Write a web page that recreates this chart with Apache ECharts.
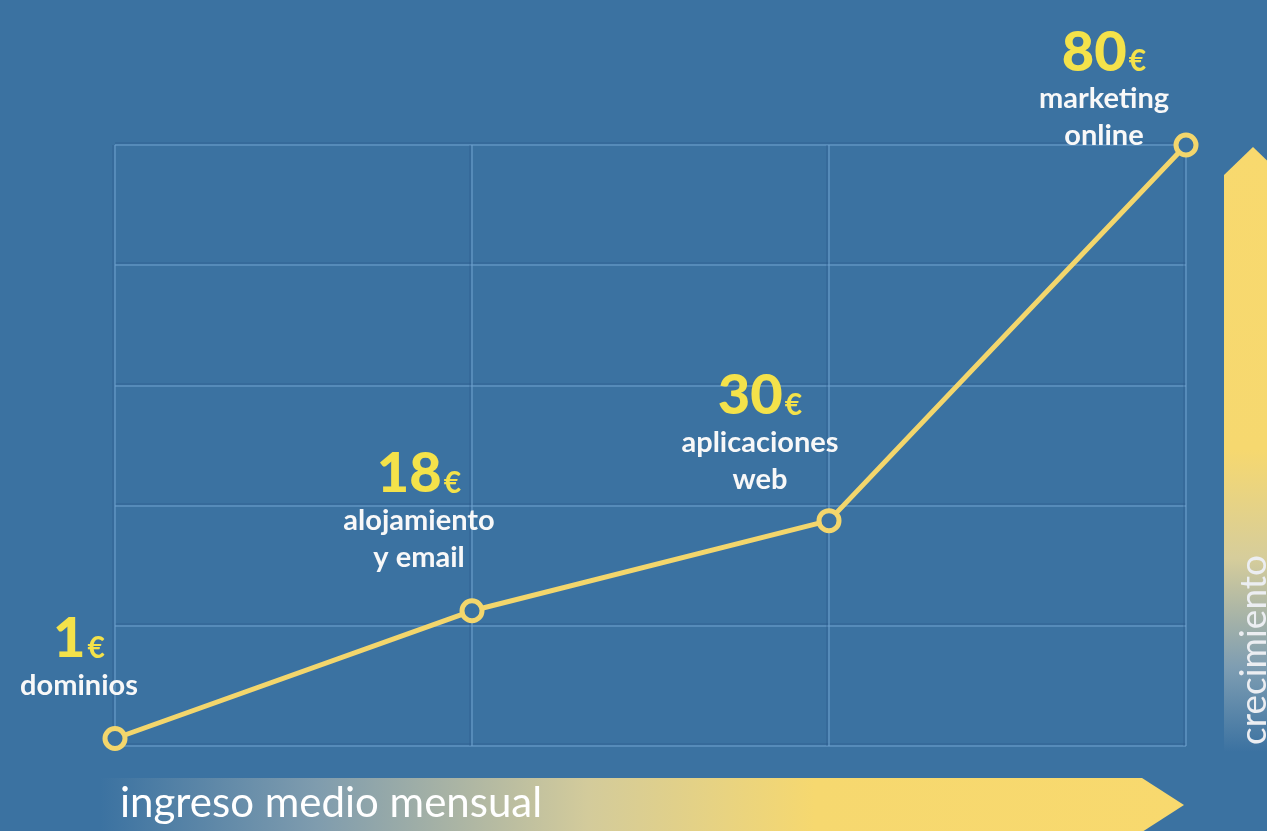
<!DOCTYPE html>
<html>
<head>
<meta charset="utf-8">
<script src="https://cdn.jsdelivr.net/npm/echarts@6/dist/echarts.min.js"></script>
<style>
  html, body { margin: 0; padding: 0; background: #3b72a1; }
  #chart { width: 1267px; height: 831px; }
</style>
</head>
<body>
<div id="chart"></div>
<script>
// Services and their average monthly income per customer (€)
const categories = ['dominios', 'alojamiento\ny email', 'aplicaciones\nweb', 'marketing\nonline'];
const ingreso = [1, 18, 30, 80];
const axisTitleX = 'ingreso medio mensual';
const axisTitleY = 'crecimiento';

// label block placement relative to each point [dx, dy]
const labelShift = [[-36, -22], [-53, -22], [-69, -10], [-82, 22]];

const BG = '#3b72a1';
const YELLOW = '#f3d66c';
const FONT = 'Lato, "Open Sans", sans-serif';

const chart = echarts.init(document.getElementById('chart'), null, { renderer: 'canvas' });

const gridLine = (horizontal) => ({
  show: true,
  lineStyle: {
    color: 'rgba(110,160,205,0.55)',
    width: 2,
    shadowColor: 'rgba(40,85,135,0.45)',
    shadowBlur: 0,
    shadowOffsetX: horizontal ? 0 : -2,
    shadowOffsetY: horizontal ? -2 : 0
  }
});

chart.setOption({
  backgroundColor: BG,
  animation: false,
  grid: { left: 115, right: 81, top: 145, bottom: 85 },
  xAxis: {
    type: 'category',
    data: categories,
    boundaryGap: false,
    axisLine: { show: false },
    axisTick: { show: false },
    axisLabel: { show: false },
    splitLine: gridLine(false)
  },
  yAxis: {
    type: 'value',
    min: 0,
    max: 80,
    interval: 16,
    axisLine: { show: false },
    axisTick: { show: false },
    axisLabel: { show: false },
    splitLine: gridLine(true)
  },
  series: [{
    type: 'line',
    data: ingreso.map((v, i) => ({
      value: v,
      label: { offset: labelShift[i] }
    })),
    symbol: 'circle',
    symbolSize: 20,
    lineStyle: { color: YELLOW, width: 5 },
    itemStyle: { color: BG, borderColor: YELLOW, borderWidth: 5 },
    z: 5,
    label: {
      show: true,
      position: 'top',
      distance: 0,
      align: 'center',
      formatter: (p) => {
        const lines = categories[p.dataIndex].split('\n').map(s => '{n|' + s + '}');
        return '{v|' + p.value + '}{e|€}\n' + lines.join('\n');
      },
      rich: {
        v: { fontFamily: FONT, fontWeight: 900, fontSize: 56, color: '#f4e24a', lineHeight: 54, verticalAlign: 'bottom' },
        e: { fontFamily: FONT, fontWeight: 'bold', fontSize: 30, color: '#f4e24a', verticalAlign: 'bottom', padding: [0, 0, 4, 2] },
        n: { fontFamily: FONT, fontWeight: 'bold', fontSize: 29, color: '#f8f8f8', lineHeight: 37, align: 'center' }
      }
    }
  }],
  graphic: [
    {
      // horizontal arrow along the bottom
      type: 'polygon',
      z: 1,
      shape: { points: [[100, 778], [1142, 778], [1184, 805], [1142, 832], [100, 832]] },
      style: {
        fill: new echarts.graphic.LinearGradient(0, 0, 1, 0, [
          { offset: 0, color: 'rgba(59,114,161,1)' },
          { offset: 0.2, color: '#7f9cae' },
          { offset: 0.45, color: '#d3cb9b' },
          { offset: 0.66, color: '#f6d86f' },
          { offset: 1, color: '#f8d96e' }
        ])
      }
    },
    {
      type: 'text',
      z: 2,
      left: 120,
      top: 782,
      style: { text: axisTitleX, fill: '#ffffff', font: '42px ' + FONT }
    },
    {
      // vertical arrow on the right
      type: 'polygon',
      z: 1,
      shape: { points: [[1224, 175], [1253, 147], [1282, 175], [1282, 752], [1224, 752]] },
      style: {
        fill: new echarts.graphic.LinearGradient(0, 0, 0, 1, [
          { offset: 0, color: '#f8d96e' },
          { offset: 0.5, color: '#f6d86f' },
          { offset: 0.68, color: '#d6cd9b' },
          { offset: 0.86, color: '#7e9db2' },
          { offset: 1, color: 'rgba(59,114,161,1)' }
        ])
      }
    },
    {
      type: 'text',
      z: 2,
      x: 1254,
      y: 650,
      rotation: Math.PI / 2,
      style: { text: axisTitleY, fill: '#eceef2', font: '37px ' + FONT, align: 'center', verticalAlign: 'middle' }
    }
  ]
});
</script>
</body>
</html>
